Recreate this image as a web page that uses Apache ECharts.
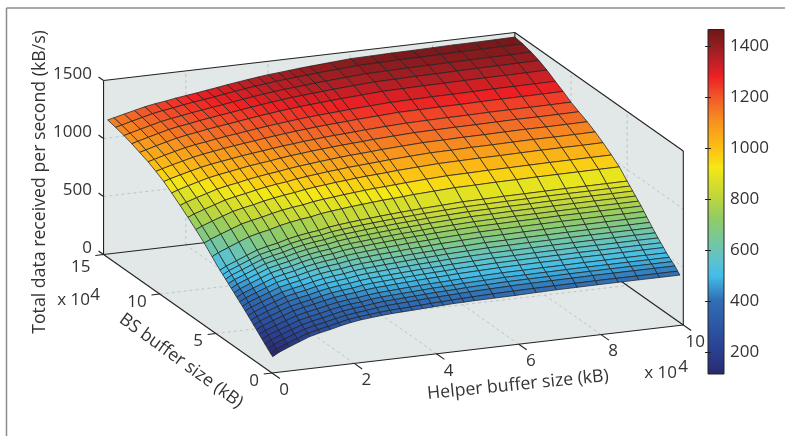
<!DOCTYPE html>
<html><head><meta charset="utf-8">
<style>html,body{margin:0;padding:0;background:#fff}#c{width:785px;height:436px}</style>
<script src="https://cdn.jsdelivr.net/npm/echarts@6/dist/echarts.min.js"></script>
</head><body><div id="c"></div>
<script>
// Helper buffer size (x 10^4 kB)
const helperBuf=[0.1,0.25,0.5,0.75,1,1.25,1.5,1.75,2,2.25,2.5,2.75,3,3.25,3.5,3.75,4,4.25,4.5,4.75,5,5.5,6,6.5,7,7.5,8,8.5,9,9.5,10];
// BS buffer size (x 10^4 kB)
const bsBuf=[0.3,0.5,0.75,1,1.25,1.5,1.75,2,2.25,2.5,2.75,3,3.25,3.5,3.75,4,4.25,4.5,4.75,5,5.7,6.4,7.15,7.85,8.55,9.3,10,10.7,11.4,12.15,12.85,13.55,14.3,15];
// Total data received per second (kB/s): one row per BS buffer size
const received=[
[116,147,184,218,252,274,292,314,332,345,354,362,368,372,376,380,384,388,392,394,396,398,400,404,407,408,409,410,410,410,410],
[132,162,199,232,266,287,305,327,345,357,366,375,382,386,390,395,400,404,408,411,415,420,424,426,428,429,430,430,430,430,430],
[155,184,220,253,286,307,324,345,363,375,384,397,406,411,416,421,426,430,433,437,441,446,451,453,455,456,458,458,458,458,458],
[178,207,242,274,306,327,344,365,383,395,404,416,425,430,435,440,445,450,453,456,461,466,471,473,474,476,477,478,478,478,478],
[202,230,264,296,328,348,365,386,403,415,423,436,445,450,455,460,465,470,473,476,481,486,491,492,494,496,497,497,498,498,498],
[226,254,287,319,350,370,387,407,424,436,444,457,466,471,477,482,486,491,494,498,502,508,513,514,516,517,519,519,520,520,520],
[250,278,311,343,375,395,412,432,449,461,470,483,492,497,503,508,513,518,521,525,530,535,540,542,544,545,547,547,547,548,548],
[273,301,334,366,397,417,434,455,472,483,492,506,515,520,526,531,536,541,545,548,553,559,564,566,568,569,571,571,571,572,572],
[297,324,358,389,421,441,457,478,495,507,516,529,538,544,550,555,560,566,569,573,578,583,589,590,593,594,596,596,596,597,597],
[320,347,381,413,445,464,481,502,519,531,540,554,563,569,575,581,586,591,595,599,604,610,615,617,619,621,622,623,623,624,624],
[343,370,404,437,469,489,506,527,544,556,565,580,589,595,602,607,613,618,622,626,631,637,643,645,647,648,650,651,651,651,652],
[366,394,428,460,493,513,530,552,569,581,591,605,615,621,628,634,639,645,649,653,658,664,671,672,675,676,678,679,679,679,680],
[388,416,450,484,517,538,555,577,595,608,617,632,642,649,656,661,667,673,677,682,687,694,700,702,705,706,708,708,709,709,710],
[410,438,473,507,541,562,580,603,620,633,643,659,669,676,683,690,695,702,706,710,716,723,729,732,734,736,738,738,739,739,740],
[432,461,496,531,566,587,604,628,646,659,670,686,696,703,711,717,724,730,735,739,745,752,759,761,764,765,768,768,769,769,770],
[454,483,518,553,588,609,627,650,668,682,692,708,719,726,734,741,747,754,758,763,769,776,783,786,789,790,792,793,794,794,795],
[476,505,540,576,611,632,650,674,692,706,716,733,743,751,759,766,773,779,784,789,795,803,810,812,816,817,819,820,821,821,822],
[498,527,562,598,633,654,672,697,715,729,739,756,767,775,784,791,797,804,809,814,820,828,836,838,841,842,845,846,847,847,848],
[520,549,584,620,656,677,695,720,738,752,762,780,790,799,808,815,822,829,834,839,845,853,861,864,867,868,871,872,872,873,874],
[541,570,606,642,677,699,717,742,760,774,785,803,814,823,832,839,846,853,859,864,870,878,887,889,893,894,896,898,898,899,900],
[610,638,674,710,745,767,785,810,828,843,854,872,883,893,902,910,918,925,930,936,943,952,961,963,967,968,971,972,973,974,975],
[680,706,740,773,806,827,845,867,885,899,910,927,938,947,957,965,973,980,985,991,997,1007,1016,1018,1022,1023,1025,1027,1028,1029,1030],
[745,769,802,833,864,884,901,922,939,953,965,980,992,1001,1011,1018,1027,1034,1039,1045,1052,1061,1070,1073,1076,1077,1080,1082,1083,1083,1085],
[803,826,856,885,914,934,950,969,986,999,1010,1025,1036,1046,1056,1063,1072,1078,1084,1090,1097,1106,1115,1117,1121,1122,1125,1127,1127,1128,1130],
[858,879,908,934,961,980,995,1013,1028,1041,1052,1066,1077,1086,1096,1104,1112,1119,1124,1130,1137,1146,1155,1157,1161,1162,1165,1167,1167,1168,1170],
[915,933,960,984,1008,1025,1040,1055,1070,1081,1092,1105,1116,1124,1134,1141,1149,1155,1161,1166,1173,1182,1190,1193,1196,1197,1200,1202,1202,1203,1205],
[965,982,1006,1028,1050,1067,1081,1094,1108,1119,1130,1141,1152,1160,1170,1177,1185,1191,1196,1202,1208,1217,1225,1228,1231,1232,1235,1236,1237,1238,1240],
[1005,1021,1045,1067,1089,1106,1120,1134,1147,1158,1169,1181,1192,1201,1211,1218,1227,1233,1239,1244,1251,1260,1270,1272,1275,1276,1279,1281,1282,1283,1285],
[1040,1055,1080,1102,1124,1140,1153,1168,1181,1192,1204,1216,1228,1237,1247,1255,1264,1270,1276,1282,1289,1299,1308,1311,1315,1316,1318,1321,1322,1323,1325],
[1070,1085,1110,1133,1155,1172,1186,1201,1214,1226,1238,1251,1264,1274,1285,1294,1303,1310,1317,1324,1331,1341,1352,1355,1359,1360,1363,1365,1366,1368,1370],
[1097,1112,1136,1159,1182,1199,1212,1228,1241,1254,1266,1279,1292,1303,1315,1325,1335,1342,1349,1356,1363,1375,1386,1388,1393,1394,1397,1400,1401,1403,1405],
[1120,1134,1158,1180,1203,1219,1233,1248,1261,1274,1286,1300,1313,1325,1337,1347,1357,1364,1371,1379,1386,1398,1410,1413,1417,1419,1422,1424,1426,1427,1430],
[1140,1153,1176,1198,1220,1236,1249,1265,1278,1290,1302,1316,1330,1342,1354,1364,1375,1382,1390,1397,1405,1417,1429,1432,1437,1438,1441,1444,1446,1447,1450],
[1156,1168,1190,1211,1232,1248,1260,1275,1287,1299,1312,1325,1339,1351,1363,1374,1385,1392,1400,1408,1415,1427,1440,1443,1447,1449,1452,1455,1456,1458,1461]
];
const helperTicks=[0,2,4,6,8,10];
const bsTicks=[0,5,10,15];
const zTicks=[0,500,1000,1500];
const barTicks=[200,400,600,800,1000,1200,1400];
const barRange=[116,1466];
const axisRange={x:10,y:15,z:1500};
const cmapValues=[116,200,300,410,500,560,625,730,810,925,1000,1100,1200,1280,1370,1466];
const cmapColors=['#29296f','#2a3d8f','#2c55a3','#3170b5','#42bde8','#5cc2cf','#71c6a5','#94cc62','#bfd63c','#f4e815','#fcc014','#f7941e','#f0582a','#ed2024','#a81f24','#6b1719'];

const FONT='17px "Open Sans"', TITLE='17.7px "Open Sans"', INK='#333333';
function project(x,y,z){return [272+41.13*x-11.23*y, 373-4.8*x-7.9*y-0.116*z];}
function hex(c){return [1,3,5].map(i=>parseInt(c.substr(i,2),16));}
function colorOf(v){
  let i=0;while(i<cmapValues.length-2&&v>cmapValues[i+1])i++;
  const t=Math.max(0,Math.min(1,(v-cmapValues[i])/(cmapValues[i+1]-cmapValues[i])));
  const a=hex(cmapColors[i]),b=hex(cmapColors[i+1]);
  return 'rgb('+a.map((p,k)=>Math.round(p+(b[k]-p)*t)).join(',')+')';
}
// walls, floor, grid, box, ticks
const X=axisRange.x,Y=axisRange.y,Z=axisRange.z;
const walls=[
  [[0,Y,0],[X,Y,0],[X,Y,Z],[0,Y,Z]],
  [[X,Y,0],[X,0,0],[X,0,Z],[X,Y,Z]],
  [[0,0,0],[X,0,0],[X,Y,0],[0,Y,0]]
];
const dashed=[],solid=[];
helperTicks.filter(t=>t>0&&t<X).forEach(t=>{dashed.push([[t,0,0],[t,Y,0]],[[t,Y,0],[t,Y,Z]]);});
bsTicks.filter(t=>t>0&&t<Y).forEach(t=>{dashed.push([[0,t,0],[X,t,0]],[[X,t,0],[X,t,Z]]);});
zTicks.filter(t=>t>0&&t<Z).forEach(t=>{dashed.push([[0,Y,t],[X,Y,t]],[[X,Y,t],[X,0,t]]);});
solid.push([[0,0,0],[X,0,0]],[[0,0,0],[0,Y,0]],[[0,Y,0],[X,Y,0]],[[X,0,0],[X,Y,0]],
 [[0,Y,0],[0,Y,Z]],[[X,0,0],[X,0,Z]],[[X,Y,0],[X,Y,Z]],[[0,Y,Z],[X,Y,Z]],[[X,Y,Z],[X,0,Z]]);
helperTicks.forEach(t=>solid.push([[t,0,0],[t,-0.7,0]]));
bsTicks.forEach(t=>solid.push([[0,t,0],[-0.2,t,0]]));
zTicks.forEach(t=>solid.push([[0,Y,t],[0,Y+0.45,t]]));

const cells=[];
for(let j=bsBuf.length-2;j>=0;j--)for(let i=helperBuf.length-2;i>=0;i--)cells.push([i,j]);

function pt(api,p){return api.coord(project(p[0],p[1],p[2]));}
const texts=[];
zTicks.forEach(t=>{const p=project(0,Y,t);texts.push({t:String(t),x:92,y:p[1]-6,a:'right'});});
bsTicks.forEach(t=>{const p=project(0,t,0);texts.push({t:String(t),x:p[0]-13,y:p[1]+(t===Y?13:8),a:'right'});});
helperTicks.forEach(t=>{const p=project(t,0,0);texts.push({t:String(t),x:p[0]+12,y:p[1]+17,a:'center'});});
[[90,300,'x 10','right'],[95,295,'4','center'],[677,373,'x 10','right'],[683,367,'4','center']].forEach(a=>texts.push({t:a[2],x:a[0],y:a[1],a:a[3]}));

const chart=echarts.init(document.getElementById('c'),null,{renderer:'canvas'});
function grad(){
  const stops=cmapValues.map((v,i)=>({offset:1-(v-barRange[0])/(barRange[1]-barRange[0]),color:cmapColors[i]})).reverse();
  return new echarts.graphic.LinearGradient(0,0,0,1,stops);
}
chart.setOption({
  animation:false,
  backgroundColor:'#fff',
  grid:[{left:0,top:0,right:0,bottom:0},{left:708,width:16,top:29.5,height:344.5}],
  xAxis:[{type:'value',min:0,max:785,show:false,gridIndex:0},{type:'value',min:0,max:1,show:false,gridIndex:1}],
  yAxis:[
    {type:'value',min:0,max:436,inverse:true,show:false,gridIndex:0},
    {type:'value',gridIndex:1,position:'right',min:barRange[0],max:barRange[1],z:5,
     axisLine:{show:false},splitLine:{show:false},
     axisTick:{show:true,inside:true,length:3,customValues:barTicks,lineStyle:{color:'#222',width:1}},
     axisLabel:{show:true,customValues:barTicks,formatter:v=>String(v),color:INK,fontFamily:'Open Sans',fontSize:17,margin:6}},
    {type:'value',gridIndex:1,position:'left',min:barRange[0],max:barRange[1],z:5,
     axisLine:{show:false},splitLine:{show:false},
     axisTick:{show:true,inside:true,length:3,customValues:barTicks,lineStyle:{color:'#222',width:1}},
     axisLabel:{show:false}}
  ],
  graphic:[
    {type:'line',shape:{x1:6.5,y1:8,x2:785,y2:8},style:{stroke:'#8c8c8c',lineWidth:1.5},silent:true},
    {type:'line',shape:{x1:6.5,y1:8,x2:6.5,y2:436},style:{stroke:'#8c8c8c',lineWidth:1.5},silent:true},
    {type:'text',x:40,y:182,rotation:Math.PI/2,style:{text:'Total data received per second (kB/s)',font:TITLE,fill:INK,align:'center',verticalAlign:'middle'},silent:true},
    {type:'text',x:181,y:361,rotation:-36*Math.PI/180,style:{text:'BS buffer size (kB)',font:TITLE,fill:INK,align:'center',verticalAlign:'middle'},silent:true},
    {type:'text',x:518,y:385,rotation:5.7*Math.PI/180,style:{text:'Helper buffer size (kB)',font:TITLE,fill:INK,align:'center',verticalAlign:'middle'},silent:true}
  ],
  series:[
    {type:'custom',xAxisIndex:0,yAxisIndex:0,z:1,silent:true,clip:false,
     data:walls.map((w,i)=>[i,i]),
     renderItem(p,api){return {type:'polygon',shape:{points:walls[p.dataIndex].map(q=>pt(api,q))},style:{fill:'#e2e7e7',stroke:null}};}},
    {type:'custom',xAxisIndex:0,yAxisIndex:0,z:2,silent:true,clip:false,
     data:dashed.map((w,i)=>[i,i]),
     renderItem(p,api){const s=dashed[p.dataIndex],a=pt(api,s[0]),b=pt(api,s[1]);
       return {type:'line',shape:{x1:a[0],y1:a[1],x2:b[0],y2:b[1]},style:{stroke:'#bfc4c4',lineWidth:1,lineDash:[3,3]}};}},
    {type:'custom',xAxisIndex:0,yAxisIndex:0,z:3,silent:true,clip:false,
     data:solid.map((w,i)=>[i,i]),
     renderItem(p,api){const s=solid[p.dataIndex],a=pt(api,s[0]),b=pt(api,s[1]);
       return {type:'line',shape:{x1:a[0],y1:a[1],x2:b[0],y2:b[1]},style:{stroke:'#222',lineWidth:1.1}};}},
    {type:'custom',name:'surface',xAxisIndex:0,yAxisIndex:0,z:4,silent:true,clip:false,
     data:cells,
     renderItem(p,api){
       const c=cells[p.dataIndex],i=c[0],j=c[1];
       const v=(a,b)=>pt(api,[helperBuf[a],bsBuf[b],received[b][a]]);
       return {type:'polygon',shape:{points:[v(i,j),v(i+1,j),v(i+1,j+1),v(i,j+1)]},
         style:{fill:colorOf(received[j][i]),stroke:'#222',lineWidth:0.75}};}},
    {type:'custom',xAxisIndex:0,yAxisIndex:0,z:5,silent:true,clip:false,
     data:texts.map((w,i)=>[i,i]),
     renderItem(p,api){const t=texts[p.dataIndex],q=api.coord([t.x,t.y]);
       return {type:'text',style:{x:q[0],y:q[1],text:t.t,font:FONT,fill:INK,align:t.a,verticalAlign:'middle'}};}},
    {type:'custom',name:'colorbar',xAxisIndex:1,yAxisIndex:1,z:2,silent:true,clip:false,
     data:[[0,barRange[0],barRange[1]]],
     renderItem(p,api){const a=api.coord([0,barRange[1]]),b=api.coord([1,barRange[0]]);
       return {type:'rect',shape:{x:a[0],y:a[1],width:b[0]-a[0],height:b[1]-a[1]},style:{fill:grad(),stroke:'#222',lineWidth:1}};}}
  ]
});
</script></body></html>
